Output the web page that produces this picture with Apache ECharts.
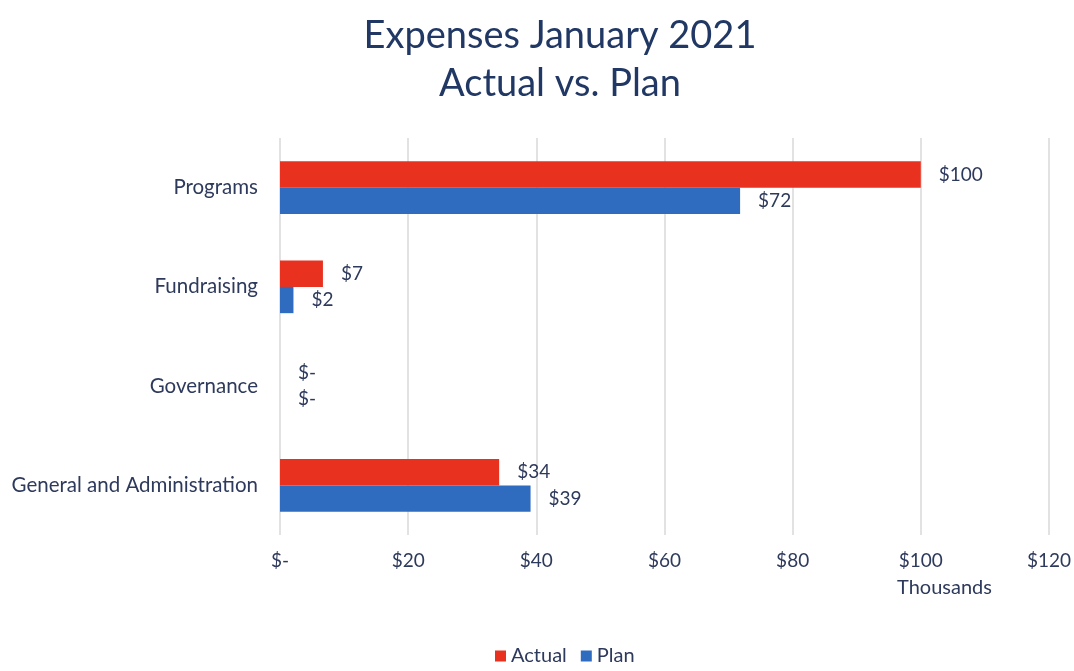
<!DOCTYPE html>
<html><head><meta charset="utf-8">
<script src="https://cdn.jsdelivr.net/npm/echarts@6/dist/echarts.min.js"></script>
<style>html,body{margin:0;padding:0;background:#fff}#c{width:1074px;height:671px}</style>
</head><body><div id="c"></div>
<script>
const categories = ['Programs', 'Fundraising', 'Governance', 'General and Administration'];
const actual = [100, 6.7, 0, 34.2];
const plan = [71.8, 2.1, 0, 39.1];
const xTicks = [0, 20, 40, 60, 80, 100, 120];

const textColor = '#2E3A5C';
const fmt = v => (Math.round(v) === 0 ? '$-' : '$' + Math.round(v));
const chart = echarts.init(document.getElementById('c'));
chart.setOption({
  animation: false,
  textStyle: { fontFamily: 'Lato' },
  legend: {
    bottom: 0, left: 490,
    itemWidth: 11, itemHeight: 11, itemGap: 14,
    icon: 'rect',
    textStyle: { color: textColor, fontSize: 20, fontFamily: 'Lato' },
    data: ['Actual', 'Plan']
  },
  grid: { left: 280, right: 25, top: 138, bottom: 136, containLabel: false },
  xAxis: {
    type: 'value', min: 0, max: 120, interval: 20,
    axisLine: { show: false },
    axisTick: { show: false },
    splitLine: { show: true, lineStyle: { color: '#D9D9D9', width: 1.5 } },
    axisLabel: { color: textColor, fontSize: 19, margin: 16, formatter: v => fmt(v) }
  },
  yAxis: {
    type: 'category', data: categories, inverse: true,
    axisLine: { show: false }, axisTick: { show: false },
    axisLabel: { color: textColor, fontSize: 20.5, margin: 22 }
  },
  graphic: [
    {
      type: 'text', x: 560, y: 12,
      style: { text: 'Expenses January 2021\nActual vs. Plan', fill: '#213864', font: '38px Lato',
               textAlign: 'center', lineHeight: 48 }
    },
    {
      type: 'text', left: 897, top: 578,
      style: { text: 'Thousands', fill: textColor, font: '20px Lato' }
    }
  ],
  series: [
    {
      name: 'Actual', type: 'bar', data: actual, barGap: '0%', barCategoryGap: '47%',
      itemStyle: { color: '#E8311F' },
      label: { show: true, position: 'right', distance: 18, color: textColor, fontSize: 19, formatter: p => fmt(p.value) }
    },
    {
      name: 'Plan', type: 'bar', data: plan, barGap: '0%', barCategoryGap: '47%',
      itemStyle: { color: '#2F6BBF' },
      label: { show: true, position: 'right', distance: 18, color: textColor, fontSize: 19, formatter: p => fmt(p.value) }
    }
  ]
});
</script></body></html>
